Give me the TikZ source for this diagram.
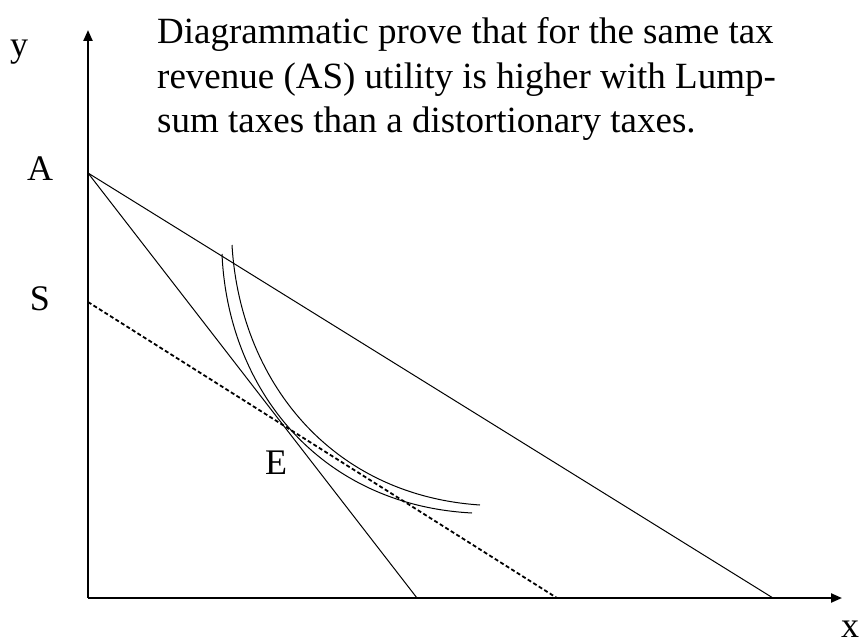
\documentclass[tikz,border=0pt]{standalone}
\usepackage{fontspec}
\setmainfont{Liberation Serif}
\usetikzlibrary{arrows.meta}
\begin{document}
\begin{tikzpicture}[x=1pt,y=-1pt,
  axis/.style={line width=2.2pt,-{Triangle[length=11pt,width=9pt]}},
  thin/.style={line width=1pt},
  budget/.style={line width=1.8pt,dash pattern=on 4pt off 2.5pt},
  lab/.style={font=\fontsize{36}{40}\selectfont,anchor=base,inner sep=0pt},
  ttl/.style={font=\fontsize{37}{42}\selectfont,anchor=base west,inner sep=0pt}]
\useasboundingbox (0,0) rectangle (861,644);
\coordinate (O) at (88,598);
\coordinate (Yt) at (88,30);
\coordinate (Xt) at (842,598);
\coordinate (A) at (88,173);
\coordinate (S) at (88,302);
\coordinate (P1) at (773,598);
\coordinate (P2) at (417,598);
\coordinate (P3) at (557,598);
\coordinate (I0) at (222,254);
\coordinate (I1) at (472,513);
\coordinate (J0) at (232,245);
\coordinate (J1) at (480,505);
\draw[axis] (O) -- (Yt);
\draw[axis] (O) -- (Xt);
\draw[thin] (A) -- (P1);
\draw[thin] (A) -- (P2);
\draw[budget] (S) -- (P3);
\draw[thin] (I0) .. controls (228,390) and (320,505) .. (I1);
\draw[thin] (J0) .. controls (240,380) and (330,495) .. (J1);
\node[lab] (ly) at (19,57) {y};
\node[lab] (lA) at (40,181) {A};
\node[lab] (lS) at (40,310) {S};
\node[lab] (lE) at (276,474) {E};
\node[lab] (lx) at (850,637) {x};
\node[ttl] (t1) at (157,44) {Diagrammatic prove that for the same tax};
\node[ttl] (t2) at (157,88.5) {revenue (AS) utility is higher with Lump-};
\node[ttl] (t3) at (157,133) {sum taxes than a distortionary taxes.};
\end{tikzpicture}
\end{document}
